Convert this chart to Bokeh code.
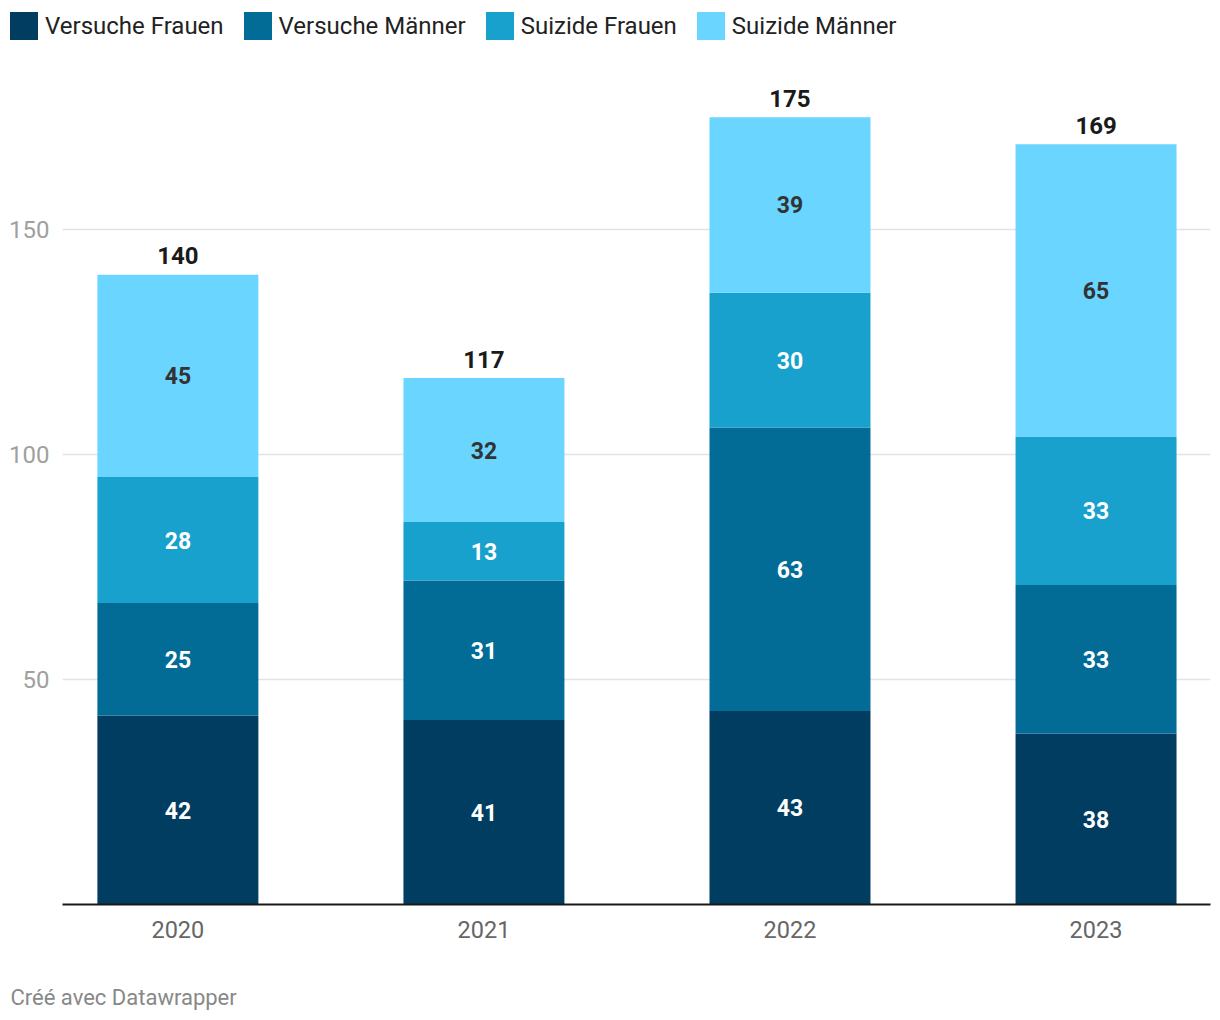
from bokeh.plotting import figure
from bokeh.layouts import column
from bokeh.models import ColumnDataSource, Range1d, FixedTicker, Label
from bokeh.core.properties import value
from bokeh.embed import file_html
from bokeh.resources import INLINE

years = ["2020", "2021", "2022", "2023"]
series = ["Versuche Frauen", "Versuche Männer", "Suizide Frauen", "Suizide Männer"]
versuche_frauen = [42, 41, 43, 38]
versuche_maenner = [25, 31, 63, 33]
suizide_frauen = [28, 13, 30, 33]
suizide_maenner = [45, 32, 39, 65]
colors = ["#013d61", "#026c97", "#18a1cd", "#6ad6ff"]
label_colors = ["#ffffff", "#ffffff", "#ffffff", "#333333"]
y_ticks = [50, 100, 150]
footer_text = "Créé avec Datawrapper"

FONT = "Roboto"
values_list = [versuche_frauen, versuche_maenner, suizide_frauen, suizide_maenner]
xs = list(range(len(years)))
data = {"x": xs}
for name, vals in zip(series, values_list):
    data[name] = vals
src = ColumnDataSource(data)


def strip(height):
    f = figure(width=1212, height=height, output_backend="svg", toolbar_location=None,
               x_range=Range1d(0, 1), y_range=Range1d(0, 1), min_border=0,
               x_axis_location=None, y_axis_location=None)
    f.grid.visible = False
    f.outline_line_color = None
    if "frame_align" in f.properties():
        f.frame_align = False
    return f


# ---- legend strip (zero-height swatch renderers only feed the legend) ----
leg = strip(60)
for name, c in zip(series, colors):
    leg.vbar(x=[0], top=[0], width=0.0, color=c, line_color=None, legend_label=name)
lg = leg.legend[0]
lg.orientation = "horizontal"
lg.location = (6, 17)
lg.glyph_width = 35
lg.glyph_height = 35
lg.label_height = 35
lg.label_standoff = 4
lg.spacing = 16
lg.padding = 0
lg.margin = 0
lg.border_line_color = None
lg.background_fill_alpha = 0
lg.label_text_font = FONT
lg.label_text_font_size = "24px"
lg.label_text_color = "#222222"
lg.label_text_baseline = "middle"

# ---- main chart ----
p = figure(width=1212, height=894, output_backend="svg", toolbar_location=None,
           x_range=Range1d(-0.377, 3.374), y_range=Range1d(0, 187.6),
           min_border_left=62, min_border_right=2, min_border_top=0, min_border_bottom=50)
if "frame_align" in p.properties():
    p.frame_align = False
p.outline_line_color = None
p.background_fill_color = "white"

renderers = p.vbar_stack(series, x="x", width=0.526, source=src, color=colors, line_color=None)

bottom = [0] * len(years)
for name, vals, lc in zip(series, values_list, label_colors):
    centers = [b + v / 2 for b, v in zip(bottom, vals)]
    lsrc = ColumnDataSource(dict(x=xs, y=centers, t=[str(v) for v in vals]))
    p.text(x="x", y="y", text="t", source=lsrc, text_align="center", text_baseline="middle",
           text_font=value(FONT), text_font_style="bold", text_font_size="23px", text_color=lc)
    bottom = [b + v for b, v in zip(bottom, vals)]

tsrc = ColumnDataSource(dict(x=xs, y=bottom, t=[str(v) for v in bottom]))
p.text(x="x", y="y", text="t", source=tsrc, text_align="center", text_baseline="alphabetic",
       y_offset=-19, text_font=value(FONT), text_font_style="bold", text_font_size="24px",
       text_color="#1a1a1a")

p.xaxis.ticker = FixedTicker(ticks=xs)
p.xaxis.major_label_overrides = {i: y for i, y in enumerate(years)}
p.xaxis.major_tick_line_color = None
p.xaxis.minor_tick_line_color = None
p.xaxis.axis_line_color = "#1a1a1a"
p.xaxis.axis_line_width = 2
p.xaxis.major_label_text_font = FONT
p.xaxis.major_label_text_font_size = "23.5px"
p.xaxis.major_label_text_color = "#666666"
p.xaxis.major_label_standoff = 10

p.yaxis.ticker = FixedTicker(ticks=y_ticks)
p.yaxis.axis_line_color = None
p.yaxis.major_tick_line_color = None
p.yaxis.minor_tick_line_color = None
p.yaxis.major_label_text_font = FONT
p.yaxis.major_label_text_font_size = "24px"
p.yaxis.major_label_text_color = "#a0a0a0"
p.yaxis.major_label_standoff = 7

p.xgrid.grid_line_color = None
p.ygrid.ticker = FixedTicker(ticks=y_ticks)
p.ygrid.grid_line_color = "#e3e3e3"
p.ygrid.grid_line_width = 1.5

# ---- footer strip ----
foot = strip(62)
foot.add_layout(Label(x=10, y=19, x_units="screen", y_units="screen", text=footer_text,
                      text_font=FONT, text_font_size="22px", text_color="#888888",
                      text_baseline="middle"))

layout = column(leg, p, foot, spacing=0)
open("out.html", "w").write(file_html(layout, INLINE))
